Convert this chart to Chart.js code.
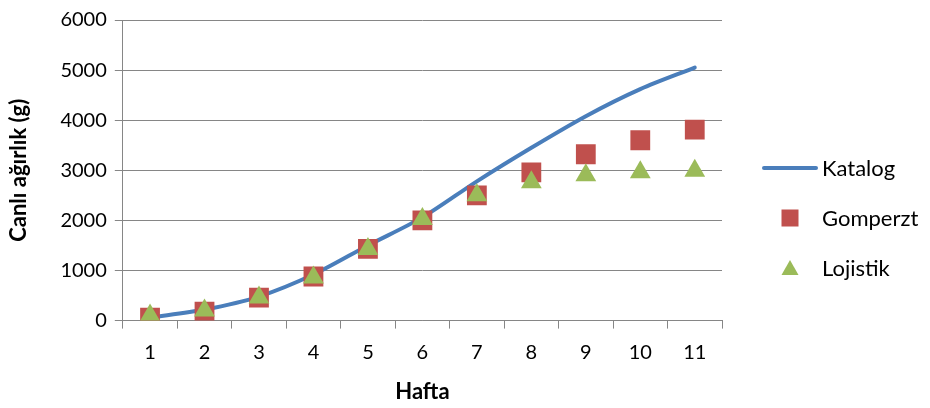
<!DOCTYPE html>
<html>
<head>
<meta charset="utf-8">
<script src="https://cdn.jsdelivr.net/npm/chart.js@4"></script>
<style>
  html, body { margin: 0; padding: 0; background: #fff; }
  #wrap { width: 930px; height: 408px; }
</style>
</head>
<body>
<div id="wrap"><canvas id="growth-chart" width="930" height="408"></canvas></div>
<script>
const weeks = ['1', '2', '3', '4', '5', '6', '7', '8', '9', '10', '11'];
const katalog = [60, 220, 480, 920, 1500, 2060, 2780, 3450, 4080, 4620, 5050];
const gomperzt = [60, 180, 460, 880, 1430, 2000, 2500, 2960, 3320, 3600, 3810];
const lojistik = [100, 200, 460, 860, 1430, 2030, 2500, 2760, 2900, 2960, 2990];

const blue = '#4A7EBB';
const red = '#C0504D';
const green = '#9BBB59';
const grey = '#868686';
const font = 'Lato, "Open Sans", sans-serif';

// legend drawn by hand, to the right of the plot
const sideLegend = {
    id: 'sideLegend',
    afterDraw(chart){
        const g = chart.ctx;
        const area = chart.chartArea;
        const iconX = area.right + 68;
        const textX = area.right + 100;
        const firstY = area.top + 148;
        const gap = 50;

        g.save();
        g.font = '22px ' + font;
        g.textBaseline = 'middle';
        g.fillStyle = '#000';

        chart.data.datasets.forEach((ds, i) => {
            const y = firstY + i * gap;
            g.fillStyle = ds.borderColor;
            g.strokeStyle = ds.borderColor;
            if(i === 0){
                g.lineWidth = 4;
                g.lineCap = 'round';
                g.beginPath();
                g.moveTo(iconX - 26, y);
                g.lineTo(iconX + 26, y);
                g.stroke();
            }else if(ds.pointStyle === 'rect'){
                g.fillRect(iconX - 8.5, y - 8.5, 17, 17);
            }else{
                g.beginPath();
                g.moveTo(iconX, y - 8);
                g.lineTo(iconX + 8.5, y + 7);
                g.lineTo(iconX - 8.5, y + 7);
                g.closePath();
                g.fill();
            }
            g.fillStyle = '#000';
            g.fillText(ds.label, textX, y + 1);
        });
        g.restore();
    }
};

const ctx = document.getElementById('growth-chart');

const chart = new Chart(ctx, {
    type: 'line',
    data: {
        labels: weeks,
        datasets: [{
            label: 'Katalog',
            data: katalog,
            borderColor: blue,
            backgroundColor: blue,
            borderWidth: 4,
            borderCapStyle: 'round',
            pointRadius: 0,
            tension: 0.3,
            order: 3
        }, {
            label: 'Gomperzt',
            data: gomperzt,
            borderColor: red,
            showLine: false,
            pointStyle: 'rect',
            pointRadius: 14,
            pointBackgroundColor: red,
            pointBorderColor: red,
            pointBorderWidth: 0,
            order: 2
        }, {
            label: 'Lojistik',
            data: lojistik,
            borderColor: green,
            showLine: false,
            pointStyle: 'triangle',
            pointRadius: 12,
            pointBackgroundColor: green,
            pointBorderColor: green,
            pointBorderWidth: 0,
            order: 1
        }]
    },
    options: {
        responsive: false,
        animation: false,
        layout: { padding: { top: 6, right: 208, left: 6, bottom: 3 } },
        plugins: {
            tooltip: { enabled: false },
            legend: { display: false }
        },
        scales: {
            x: {
                offset: true,
                grid: { display: true, offset: true, drawOnChartArea: false, color: grey, tickLength: 8 },
                border: { color: grey, width: 1 },
                ticks: { color: '#000', padding: 12, font: { family: font, size: 20 } },
                title: { display: true, text: 'Hafta', color: '#000', padding: { top: 2, bottom: 0 }, font: { family: font, size: 22, weight: 'bold' } }
            },
            y: {
                min: 0,
                max: 6000,
                ticks: { stepSize: 1000, color: '#000', padding: 8, font: { family: font, size: 20 }, callback: v => String(v) },
                grid: { color: grey, tickLength: 8 },
                border: { color: grey, width: 1 },
                title: { display: true, text: 'Canlı ağırlık (g)', color: '#000', padding: { top: 0, bottom: 20 }, font: { family: font, size: 22, weight: 'bold' } }
            }
        }
    },
    plugins: [sideLegend]
});
</script>
</body>
</html>
